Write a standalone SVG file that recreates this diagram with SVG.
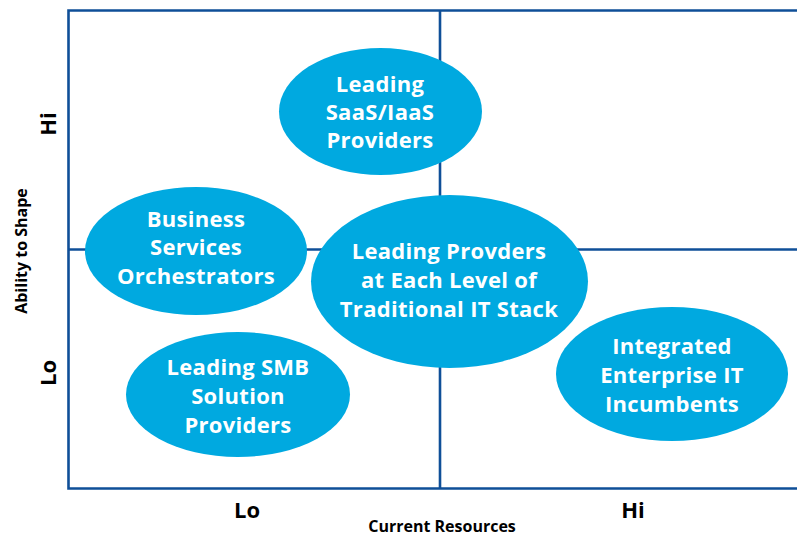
<svg xmlns="http://www.w3.org/2000/svg" width="797" height="538" viewBox="0 0 797 538">
  <style>
    .ax { stroke: #0f4f98; stroke-width: 2.6; fill: none; }
    .el { fill: #00a9e0; }
    .nt { font-family: "Open Sans", "Noto Sans", "Liberation Sans", sans-serif; font-weight: bold; font-size: 22px; letter-spacing: 0.3px; fill: #ffffff; text-anchor: middle; }
    .lb { font-family: "Open Sans", "Noto Sans", "Liberation Sans", sans-serif; font-weight: bold; fill: #000000; text-anchor: middle; }
  </style>
  <rect width="797" height="538" fill="#ffffff"/>
  <g id="axes">
    <path class="ax" d="M797,10.5 H68.5 V488.5 H797"/>
    <path class="ax" d="M68.5,249.5 H797"/>
    <path class="ax" d="M440,10.5 V488.5"/>
  </g>
  <g id="labels">
    <text class="lb" font-size="22" transform="translate(56,124) rotate(-90)">Hi</text>
    <text class="lb" font-size="22" transform="translate(56,373) rotate(-90)">Lo</text>
    <text class="lb" font-size="16" transform="translate(27,251) rotate(-90)">Ability to Shape</text>
    <text class="lb" font-size="22" x="247" y="518">Lo</text>
    <text class="lb" font-size="22" x="633" y="518">Hi</text>
    <text class="lb" font-size="16" x="442" y="532">Current Resources</text>
  </g>
  <g id="saas">
    <ellipse class="el" cx="380.5" cy="111.5" rx="101.5" ry="63.5"/>
    <text class="nt" x="380" y="92">Leading</text>
    <text class="nt" x="380" y="120">SaaS/IaaS</text>
    <text class="nt" x="380" y="148">Providers</text>
  </g>
  <g id="business">
    <ellipse class="el" cx="196" cy="251" rx="111" ry="64"/>
    <text class="nt" x="196" y="227">Business</text>
    <text class="nt" x="196" y="255">Services</text>
    <text class="nt" x="196" y="284">Orchestrators</text>
  </g>
  <g id="traditional">
    <ellipse class="el" cx="449.5" cy="281.5" rx="138.5" ry="86.5"/>
    <text class="nt" x="449" y="259">Leading Provders</text>
    <text class="nt" x="449" y="288">at Each Level of</text>
    <text class="nt" x="449" y="317">Traditional IT Stack</text>
  </g>
  <g id="integrated">
    <ellipse class="el" cx="672" cy="374" rx="116" ry="67"/>
    <text class="nt" x="672" y="354">Integrated</text>
    <text class="nt" x="672" y="383">Enterprise IT</text>
    <text class="nt" x="672" y="412">Incumbents</text>
  </g>
  <g id="smb">
    <ellipse class="el" cx="238" cy="394.5" rx="112" ry="62.5"/>
    <text class="nt" x="238" y="375">Leading SMB</text>
    <text class="nt" x="238" y="404">Solution</text>
    <text class="nt" x="238" y="433">Providers</text>
  </g>
</svg>
